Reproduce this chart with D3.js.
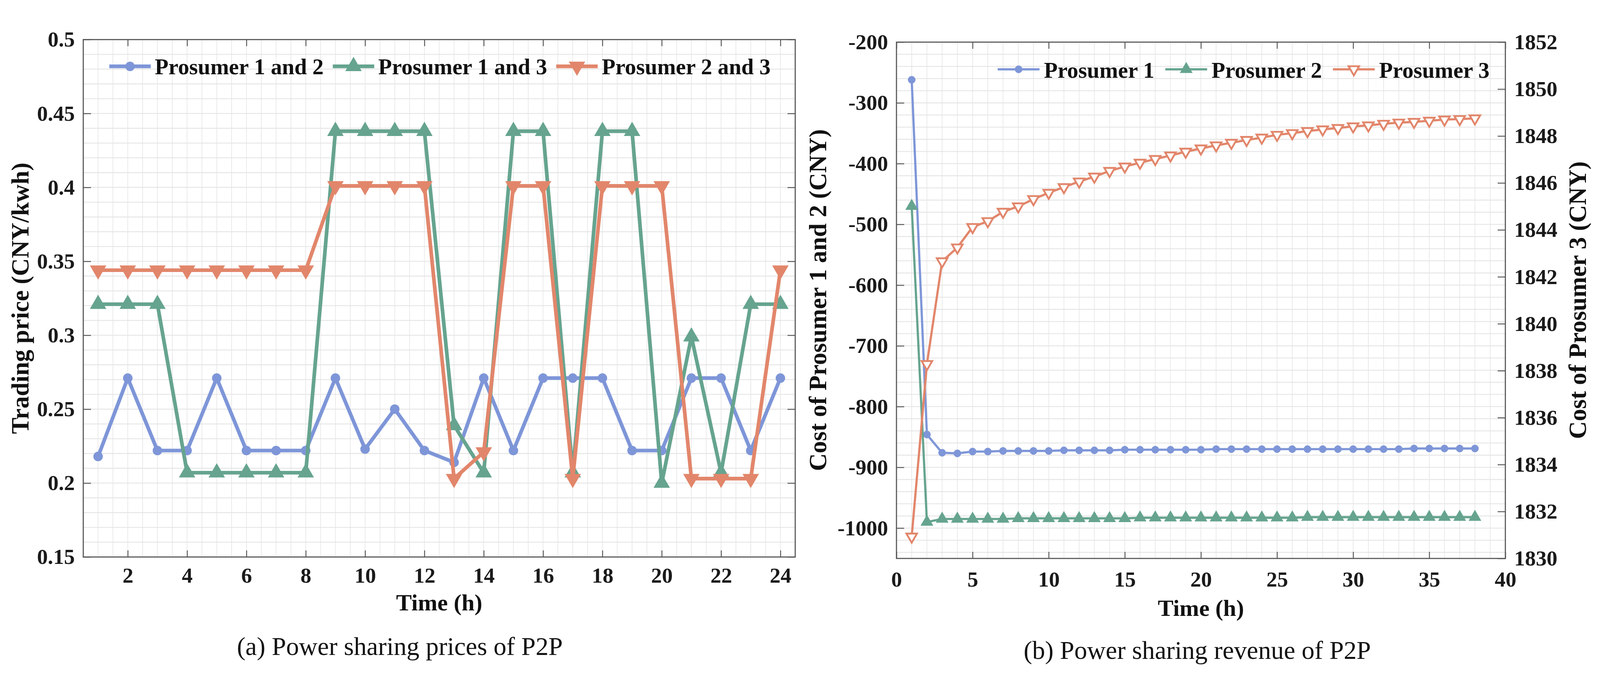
<!DOCTYPE html>
<html>
<head>
<meta charset="utf-8">
<script src="https://cdn.jsdelivr.net/npm/d3@7"></script>
<style>
  html, body { margin: 0; padding: 0; background: #fff; overflow: hidden; }
  svg { display: block; width: 100vw; height: 100vh; }
  text { font-family: "Liberation Serif", "Times New Roman", Times, serif; }
</style>
</head>
<body>
<svg id="chart" viewBox="0 0 4362 1781" preserveAspectRatio="xMidYMid meet"></svg>
<script>
// ---- data, panel (a): trading price per hour ----
const hoursA = [1, 2, 3, 4, 5, 6, 7, 8, 9, 10, 11, 12, 13, 14, 15, 16, 17, 18, 19, 20, 21, 22, 23, 24];
const pair12 = [0.218, 0.271, 0.222, 0.222, 0.271, 0.222, 0.222, 0.222, 0.271, 0.223, 0.250, 0.222,
                0.214, 0.271, 0.222, 0.271, 0.271, 0.271, 0.222, 0.222, 0.271, 0.271, 0.222, 0.271];
const pair13 = [0.321, 0.321, 0.321, 0.207, 0.207, 0.207, 0.207, 0.207, 0.438, 0.438, 0.438, 0.438,
                0.239, 0.207, 0.438, 0.438, 0.207, 0.438, 0.438, 0.200, 0.299, 0.207, 0.321, 0.321];
const pair23 = [0.344, 0.344, 0.344, 0.344, 0.344, 0.344, 0.344, 0.344, 0.401, 0.401, 0.401, 0.401,
                0.203, 0.221, 0.401, 0.401, 0.203, 0.401, 0.401, 0.401, 0.203, 0.203, 0.203, 0.344];
const legendA = ["Prosumer 1 and 2", "Prosumer 1 and 3", "Prosumer 2 and 3"];
const ticksAx = [2, 4, 6, 8, 10, 12, 14, 16, 18, 20, 22, 24];
const ticksAy = [0.15, 0.2, 0.25, 0.3, 0.35, 0.4, 0.45, 0.5];

// ---- data, panel (b): cost per iteration ----
const itersB = [1, 2, 3, 4, 5, 6, 7, 8, 9, 10, 11, 12, 13, 14, 15, 16, 17, 18, 19,
                20, 21, 22, 23, 24, 25, 26, 27, 28, 29, 30, 31, 32, 33, 34, 35, 36, 37, 38];
const cost1 = [-262, -846, -876, -877, -874, -874, -873, -873, -873, -873, -872, -872, -872, -872, -871, -871, -871, -871, -871,
               -871, -870, -870, -870, -870, -870, -870, -870, -870, -870, -870, -870, -870, -870, -869, -869, -869, -869, -869];
const cost2 = [-470, -990, -985, -985, -985, -985, -985, -984, -984, -984, -984, -984, -984, -984, -984, -983, -983, -983, -983,
               -983, -983, -983, -983, -983, -983, -983, -982, -982, -982, -982, -982, -982, -982, -982, -982, -982, -982, -982];
const cost3 = [1830.93, 1838.28, 1842.66, 1843.25, 1844.12, 1844.37, 1844.77, 1845.00, 1845.31, 1845.58,
               1845.82, 1846.06, 1846.27, 1846.51, 1846.70, 1846.86, 1847.02, 1847.17, 1847.33, 1847.47,
               1847.60, 1847.71, 1847.83, 1847.93, 1848.05, 1848.12, 1848.21, 1848.28, 1848.34, 1848.41,
               1848.45, 1848.52, 1848.57, 1848.60, 1848.65, 1848.70, 1848.72, 1848.75];
const legendB = ["Prosumer 1", "Prosumer 2", "Prosumer 3"];
const ticksBx = [0, 5, 10, 15, 20, 25, 30, 35, 40];
const ticksByL = [-1000, -900, -800, -700, -600, -500, -400, -300, -200];
const ticksByR = [1830, 1832, 1834, 1836, 1838, 1840, 1842, 1844, 1846, 1848, 1850, 1852];

const colors = ["#7e96d8", "#66a48f", "#e2866b"];
const axisColor = "#555";
const serif = '"Liberation Serif", "Times New Roman", Times, serif';
const tickFont = 59;

const svg = d3.select("#chart").attr("font-family", serif);

// grid lines behind the plot
function drawGrid(g, x, y, xs, ys) {
    g.selectAll(null).data(ys).join("line")
        .attr("x1", x.range()[0]).attr("x2", x.range()[1])
        .attr("y1", d => y(d)).attr("y2", d => y(d))
        .attr("stroke", "#e6e6e6").attr("stroke-width", 2.5);
    g.selectAll(null).data(xs).join("line")
        .attr("x1", d => x(d)).attr("x2", d => x(d))
        .attr("y1", y.range()[0]).attr("y2", y.range()[1])
        .attr("stroke", "#e4e4e4").attr("stroke-width", 1.6);
}

function styleAxis(sel, showText) {
    sel.attr("font-family", serif).attr("font-size", tickFont);
    sel.select(".domain").remove();
    sel.selectAll(".tick line").attr("stroke", axisColor).attr("stroke-width", 2.5);
    if (showText)
        sel.selectAll(".tick text")
            .attr("fill", "#1a1a1a")
            .attr("font-family", serif)
            .attr("font-weight", "bold");
    else
        sel.selectAll(".tick text").remove();
}

function drawSeries(g, xs, ys, x, y, color, opt) {
    const line = d3.line().x((d, i) => x(xs[i])).y(d => y(d));
    g.append("path").datum(ys)
        .attr("d", line)
        .attr("fill", "none")
        .attr("stroke", color)
        .attr("stroke-width", opt.lw)
        .attr("stroke-linejoin", "round");
    g.selectAll(null).data(ys).join("path")
        .attr("d", d3.symbol(opt.symbol, opt.size)())
        .attr("transform", (d, i) => "translate(" + x(xs[i]) + "," + y(d) + ")" + (opt.flip ? " rotate(180)" : ""))
        .attr("fill", opt.fill || color)
        .attr("stroke", color)
        .attr("stroke-width", opt.sw)
        .attr("stroke-linejoin", "miter");
}

function drawLegend(g, labels, styles, x0, yLine, yText, opt) {
    let x = x0;
    labels.forEach((label, i) => {
        const s = styles[i];
        g.append("line")
            .attr("x1", x).attr("x2", x + opt.len)
            .attr("y1", yLine).attr("y2", yLine)
            .attr("stroke", s.color).attr("stroke-width", opt.lw);
        g.append("path")
            .attr("d", d3.symbol(s.symbol, s.size)())
            .attr("transform", "translate(" + (x + opt.len / 2) + "," + yLine + ")" + (s.flip ? " rotate(180)" : ""))
            .attr("fill", s.fill || s.color)
            .attr("stroke", s.color)
            .attr("stroke-width", s.sw);
        const t = g.append("text")
            .attr("x", x + opt.len + opt.gap)
            .attr("y", yText)
            .attr("font-family", serif)
            .attr("font-size", opt.font)
            .attr("font-weight", "bold")
            .attr("fill", "#111")
            .text(label);
        x = x + opt.len + opt.gap + t.node().getComputedTextLength() + opt.space;
    });
}

function plainText(x, y, text, size, bold) {
    return svg.append("text")
        .attr("x", x).attr("y", y)
        .attr("text-anchor", "middle")
        .attr("font-family", serif)
        .attr("font-size", size)
        .attr("font-weight", bold ? "bold" : "normal")
        .attr("fill", "#111")
        .text(text);
}

function rotatedLabel(cx, cy, text, size) {
    svg.append("text")
        .attr("transform", "translate(" + cx + "," + cy + ") rotate(-90)")
        .attr("text-anchor", "middle")
        .attr("dy", "0.3em")
        .attr("font-family", serif)
        .attr("font-size", size)
        .attr("font-weight", "bold")
        .attr("fill", "#111")
        .text(text);
}

// =============== PANEL (a) ===============
const xA = d3.scaleLinear().domain([0.5, 24.5]).range([227, 2168]);
const yA = d3.scaleLinear().domain([0.15, 0.5]).range([1460, 50]);
const gA = svg.append("g");

drawGrid(gA, xA, yA, d3.range(0.5, 24.51, 0.5), d3.range(0.15, 0.5001, 0.01));

gA.append("g").attr("transform", "translate(0," + yA.range()[0] + ")")
    .call(d3.axisBottom(xA).tickValues(ticksAx).tickSize(-18).tickPadding(28).tickSizeOuter(0))
    .call(s => styleAxis(s, true));
gA.append("g").attr("transform", "translate(0," + yA.range()[1] + ")")
    .call(d3.axisTop(xA).tickValues(ticksAx).tickSize(-18).tickSizeOuter(0))
    .call(s => styleAxis(s, false));
gA.append("g").attr("transform", "translate(" + xA.range()[0] + ",0)")
    .call(d3.axisLeft(yA).tickValues(ticksAy).tickSize(-21).tickPadding(23).tickSizeOuter(0)
        .tickFormat(d => String(+d.toFixed(2))))
    .call(s => styleAxis(s, true));
gA.append("g").attr("transform", "translate(" + xA.range()[1] + ",0)")
    .call(d3.axisRight(yA).tickValues(ticksAy).tickSize(-21).tickSizeOuter(0))
    .call(s => styleAxis(s, false));

gA.append("rect")
    .attr("x", xA.range()[0]).attr("y", yA.range()[1])
    .attr("width", xA.range()[1] - xA.range()[0])
    .attr("height", yA.range()[0] - yA.range()[1])
    .attr("fill", "none").attr("stroke", axisColor).attr("stroke-width", 3);

const stylesA = [
    { color: colors[0], symbol: d3.symbolCircle, size: 450, sw: 2 },
    { color: colors[1], symbol: d3.symbolTriangle, size: 680, sw: 3 },
    { color: colors[2], symbol: d3.symbolTriangle, size: 680, sw: 3, flip: true }
];
[pair12, pair13, pair23].forEach((vals, i) => {
    drawSeries(gA, hoursA, vals, xA, yA, colors[i], Object.assign({ lw: 10 }, stylesA[i]));
});

drawLegend(gA, legendA, stylesA, 298, 123, 144, { len: 113, gap: 11, space: 25, lw: 10, font: 61 });

rotatedLabel(58, 755, "Trading price (CNY/kwh)", 67);
plainText((xA.range()[0] + xA.range()[1]) / 2, 1606, "Time (h)", 64, true);
plainText(1090, 1727, "(a) Power sharing prices of P2P", 70, false);

// =============== PANEL (b) ===============
const xB = d3.scaleLinear().domain([0, 40]).range([2444, 4104]);
const yBL = d3.scaleLinear().domain([-1050, -200]).range([1464, 57]);
const yBR = d3.scaleLinear().domain([1830, 1852]).range([1464, 57]);
const gB = svg.append("g");

drawGrid(gB, xB, yBL, d3.range(0, 40.01, 1), d3.range(-1040, -199, 20));

gB.append("g").attr("transform", "translate(0," + yBL.range()[0] + ")")
    .call(d3.axisBottom(xB).tickValues(ticksBx).tickSize(-18).tickPadding(35).tickSizeOuter(0)
        .tickFormat(d => String(d)))
    .call(s => styleAxis(s, true));
gB.append("g").attr("transform", "translate(0," + yBL.range()[1] + ")")
    .call(d3.axisTop(xB).tickValues(ticksBx).tickSize(-18).tickSizeOuter(0))
    .call(s => styleAxis(s, false));
gB.append("g").attr("transform", "translate(" + xB.range()[0] + ",0)")
    .call(d3.axisLeft(yBL).tickValues(ticksByL).tickSize(-21).tickPadding(23).tickSizeOuter(0)
        .tickFormat(d => String(d)))
    .call(s => styleAxis(s, true));
gB.append("g").attr("transform", "translate(" + xB.range()[1] + ",0)")
    .call(d3.axisRight(yBR).tickValues(ticksByR).tickSize(-21).tickPadding(24).tickSizeOuter(0)
        .tickFormat(d => String(d)))
    .call(s => styleAxis(s, true));

gB.append("rect")
    .attr("x", xB.range()[0]).attr("y", yBL.range()[1])
    .attr("width", xB.range()[1] - xB.range()[0])
    .attr("height", yBL.range()[0] - yBL.range()[1])
    .attr("fill", "none").attr("stroke", axisColor).attr("stroke-width", 3);

const stylesB = [
    { color: colors[0], symbol: d3.symbolCircle, size: 310, sw: 1 },
    { color: colors[1], symbol: d3.symbolTriangle, size: 380, sw: 3 },
    { color: colors[2], symbol: d3.symbolTriangle, size: 360, sw: 5, fill: "#fff", flip: true }
];
drawSeries(gB, itersB, cost1, xB, yBL, colors[0], Object.assign({ lw: 6 }, stylesB[0]));
drawSeries(gB, itersB, cost2, xB, yBL, colors[1], Object.assign({ lw: 6 }, stylesB[1]));
drawSeries(gB, itersB, cost3, xB, yBR, colors[2], Object.assign({ lw: 6 }, stylesB[2]));

drawLegend(gB, legendB, stylesB, 2720, 131, 154, { len: 114, gap: 12, space: 30, lw: 6, font: 61 });

rotatedLabel(2232, 760, "Cost of Prosumer 1 and 2 (CNY)", 67);
rotatedLabel(4304, 760, "Cost of Prosumer 3 (CNY)", 67);
plainText((xB.range()[0] + xB.range()[1]) / 2, 1620, "Time (h)", 64, true);
plainText(3264, 1738, "(b) Power sharing revenue of P2P", 70, false);
</script>
</body>
</html>
